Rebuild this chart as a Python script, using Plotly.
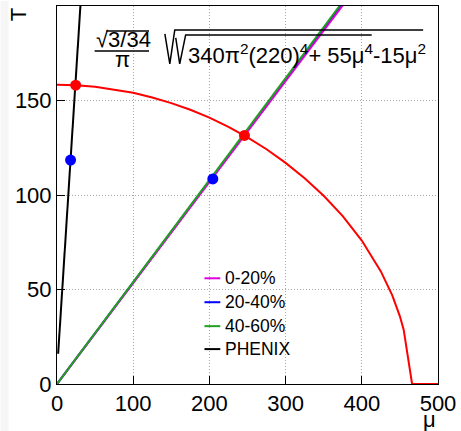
import plotly.graph_objects as go

# ---------------- data ----------------
mu_curve = [0, 25, 50, 75, 100, 125, 150, 175, 200, 225, 250, 275, 300, 325,
            350, 375, 400, 425, 440, 450, 455, 466, 500]
T_curve = [158.3, 158.1, 157.3, 155.9, 154.1, 151.6, 148.6, 145.1, 140.9, 136.0,
           130.5, 124.2, 117.0, 108.9, 99.6, 88.8, 75.9, 59.6, 46.9, 35.8, 28.6, 0, 0]

line_names = ["0-20%", "20-40%", "40-60%", "PHENIX"]
line_mu = [[0, 380], [0, 380], [0, 380], [1.5, 32]]
line_T = [[0, 203], [0, 204], [0, 205], [16, 208]]

red_dot_mu = [24.5, 246]
red_dot_T = [158.1, 131.5]
blue_dot_mu = [17.8, 204.5]
blue_dot_T = [118.5, 108.5]

x_ticks = [0, 100, 200, 300, 400, 500]
y_ticks = [0, 50, 100, 150]

# ---------------- styling ----------------
W, H = 461, 431
L, R, TOP, B = 57, 442, 5, 384
FONT = "Liberation Sans, Arial, Helvetica, sans-serif"
colors = {"0-20%": "#e000e0", "20-40%": "#0000ff", "40-60%": "#22a022", "PHENIX": "#000000"}
draw_order = ["20-40%", "0-20%", "40-60%", "PHENIX"]


def px(x):
    return (x - L) / (R - L)


def py(y):
    return (B - y) / (B - TOP)


fig = go.Figure()

for name in draw_order:
    i = line_names.index(name)
    fig.add_trace(go.Scatter(x=line_mu[i], y=line_T[i], mode="lines", name=name,
                             line=dict(color=colors[name], width=2), showlegend=False))

fig.add_trace(go.Scatter(x=mu_curve, y=T_curve, mode="lines", line=dict(color="#ff0000", width=2),
                         showlegend=False))
fig.add_trace(go.Scatter(x=red_dot_mu, y=red_dot_T, mode="markers",
                         marker=dict(color="#ff0000", size=11), showlegend=False))
fig.add_trace(go.Scatter(x=blue_dot_mu, y=blue_dot_T, mode="markers",
                         marker=dict(color="#0000ff", size=11), showlegend=False))

shapes = []
annotations = []

# light strip at left edge
shapes.append(dict(type="rect", xref="paper", yref="paper", x0=px(0), x1=px(8), y0=py(431), y1=py(0),
                   fillcolor="#f6f6f6", line=dict(width=0), layer="below"))

# manual legend
leg_rows = [278, 302, 326, 349]
for name, yy in zip(line_names, leg_rows):
    shapes.append(dict(type="line", xref="paper", yref="paper", x0=px(206), x1=px(222),
                       y0=py(yy), y1=py(yy), line=dict(color=colors[name], width=2)))
    annotations.append(dict(text=name, xref="paper", yref="paper", x=px(225), y=py(yy),
                            xanchor="left", yanchor="middle", showarrow=False,
                            font=dict(size=17.5, family=FONT, color="black")))

# formula
fcol = "black"
annotations.append(dict(text="√3/34", xref="paper", yref="paper", x=px(94), y=py(39),
                        xanchor="left", yanchor="middle", showarrow=False,
                        font=dict(size=22, family=FONT, color=fcol)))
shapes.append(dict(type="line", xref="paper", yref="paper", x0=px(107), x1=px(150),
                   y0=py(30), y1=py(30), line=dict(color=fcol, width=1.5)))
shapes.append(dict(type="line", xref="paper", yref="paper", x0=px(95), x1=px(150),
                   y0=py(50), y1=py(50), line=dict(color=fcol, width=1.5)))
annotations.append(dict(text="π", xref="paper", yref="paper", x=px(123), y=py(59),
                        xanchor="center", yanchor="middle", showarrow=False,
                        font=dict(size=22, family=FONT, color=fcol)))


def pth(pts):
    s = "M " + " L ".join(f"{px(a):.5f},{py(b):.5f}" for a, b in pts)
    return s


shapes.append(dict(type="path", xref="paper", yref="paper",
                   path=pth([(166, 33), (171, 63), (176, 29), (427, 29)]),
                   line=dict(color=fcol, width=1.5)))
shapes.append(dict(type="path", xref="paper", yref="paper",
                   path=pth([(177, 37), (181, 63), (187, 34), (375, 34)]),
                   line=dict(color=fcol, width=1.5)))
annotations.append(dict(text="340π<sup>2</sup>(220)<sup>4</sup>+ 55μ<sup>4</sup>-15μ<sup>2</sup>",
                        xref="paper", yref="paper", x=px(187), y=py(53),
                        xanchor="left", yanchor="middle", showarrow=False,
                        font=dict(size=22, family=FONT, color=fcol)))

# axis titles
annotations.append(dict(text="T", xref="paper", yref="paper", x=px(19), y=py(14),
                        xanchor="center", yanchor="middle", textangle=-90, showarrow=False,
                        font=dict(size=22, family=FONT, color="black")))
annotations.append(dict(text="μ", xref="paper", yref="paper", x=px(433), y=py(420),
                        xanchor="center", yanchor="middle", showarrow=False,
                        font=dict(size=22, family=FONT, color="black")))

axis_common = dict(ticks="inside", ticklen=8, tickcolor="black",
                   showline=True, linecolor="black", linewidth=1, mirror=True,
                   showgrid=True, gridcolor="#a8a8a8", griddash="1px,2px", gridwidth=1,
                   zeroline=False, tickfont=dict(size=22, family=FONT))

fig.update_layout(
    width=W, height=H,
    margin=dict(l=L, r=W - R, t=TOP, b=H - B),
    plot_bgcolor="white", paper_bgcolor="white",
    showlegend=False,
    font=dict(family=FONT, size=22, color="black"),
    shapes=shapes, annotations=annotations,
    xaxis=dict(range=[0, 500], tickvals=x_ticks, **axis_common),
    yaxis=dict(range=[0, 200], tickvals=y_ticks, **axis_common),
)

fig.write_html("out.html")
